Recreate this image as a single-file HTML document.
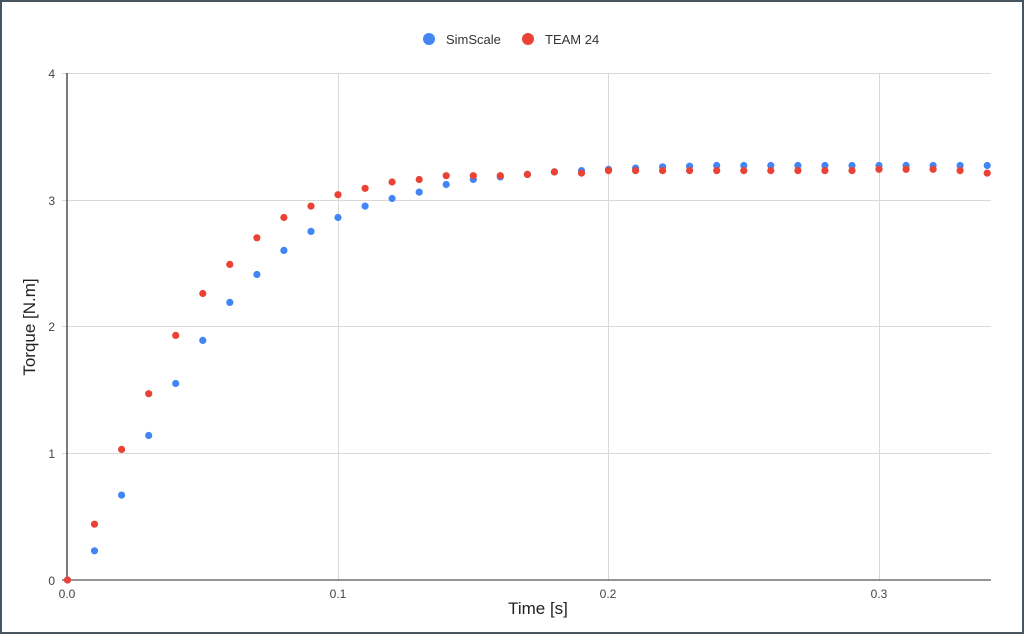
<!DOCTYPE html>
<html><head><style>
html,body{margin:0;padding:0;background:#fff}
#c{position:relative;width:1024px;height:634px;box-sizing:border-box;border:2px solid #46555f;background:#fff;overflow:hidden}
svg{position:absolute;left:-2px;top:-2px}
text{font-family:"Liberation Sans",Arial,sans-serif}
</style></head><body>
<div id="c">
<svg id="s" width="1024" height="634" xmlns="http://www.w3.org/2000/svg">
<g stroke="#d9d9d9" stroke-width="1">
<line x1="62" y1="73.5" x2="991" y2="73.5"/>
<line x1="62" y1="200.5" x2="991" y2="200.5"/>
<line x1="62" y1="326.5" x2="991" y2="326.5"/>
<line x1="62" y1="453.5" x2="991" y2="453.5"/>
<line x1="338.5" y1="73" x2="338.5" y2="580"/>
<line x1="608.5" y1="73" x2="608.5" y2="580"/>
<line x1="879.5" y1="73" x2="879.5" y2="580"/>
</g>
<line x1="62" y1="580" x2="991" y2="580" stroke="#555" stroke-width="1.3"/>
<line x1="67" y1="73" x2="67" y2="580" stroke="#333" stroke-width="1.3"/>
<g font-size="12" fill="#444" text-anchor="end">
<text x="55" y="78">4</text><text x="55" y="205">3</text><text x="55" y="331">2</text><text x="55" y="458">1</text><text x="55" y="585">0</text>
</g>
<g font-size="12" fill="#444" text-anchor="middle">
<text x="67" y="598">0.0</text><text x="338" y="598">0.1</text><text x="608" y="598">0.2</text><text x="879" y="598">0.3</text>
</g>
<text x="538" y="614" font-size="17" fill="#222" text-anchor="middle">Time [s]</text>
<text transform="translate(35,327) rotate(-90)" font-size="17" fill="#222" text-anchor="middle">Torque [N.m]</text>
<circle cx="429" cy="39" r="6" fill="#4285f4"/>
<text x="446" y="44" font-size="13" fill="#333">SimScale</text>
<circle cx="528" cy="39" r="6" fill="#ea4335"/>
<text x="545" y="44" font-size="13" fill="#333">TEAM 24</text>
<g id="pts"></g>
</svg>
</div>
<script>
var b=[0,.23,.67,1.14,1.55,1.89,2.19,2.41,2.60,2.75,2.86,2.95,3.01,3.06,3.12,3.16,3.18,3.20,3.22,3.23,3.24,3.25,3.26,3.265,3.27,3.27,3.27,3.27,3.27,3.27,3.27,3.27,3.27,3.27,3.27];
var r=[0,.44,1.03,1.47,1.93,2.26,2.49,2.70,2.86,2.95,3.04,3.09,3.14,3.16,3.19,3.19,3.19,3.20,3.22,3.21,3.23,3.23,3.23,3.23,3.23,3.23,3.23,3.23,3.23,3.23,3.24,3.24,3.24,3.23,3.21];
var g=document.getElementById('pts'),h='';
function add(a,c){for(var i=0;i<a.length;i++){var x=67.5+i*27.05,y=580-a[i]*126.75;h+='<circle cx="'+x.toFixed(1)+'" cy="'+y.toFixed(1)+'" r="3.6" fill="'+c+'"/>';}}
add(b,'#4285f4');add(r,'#ea4335');
g.innerHTML=h;
</script>
</body></html>
